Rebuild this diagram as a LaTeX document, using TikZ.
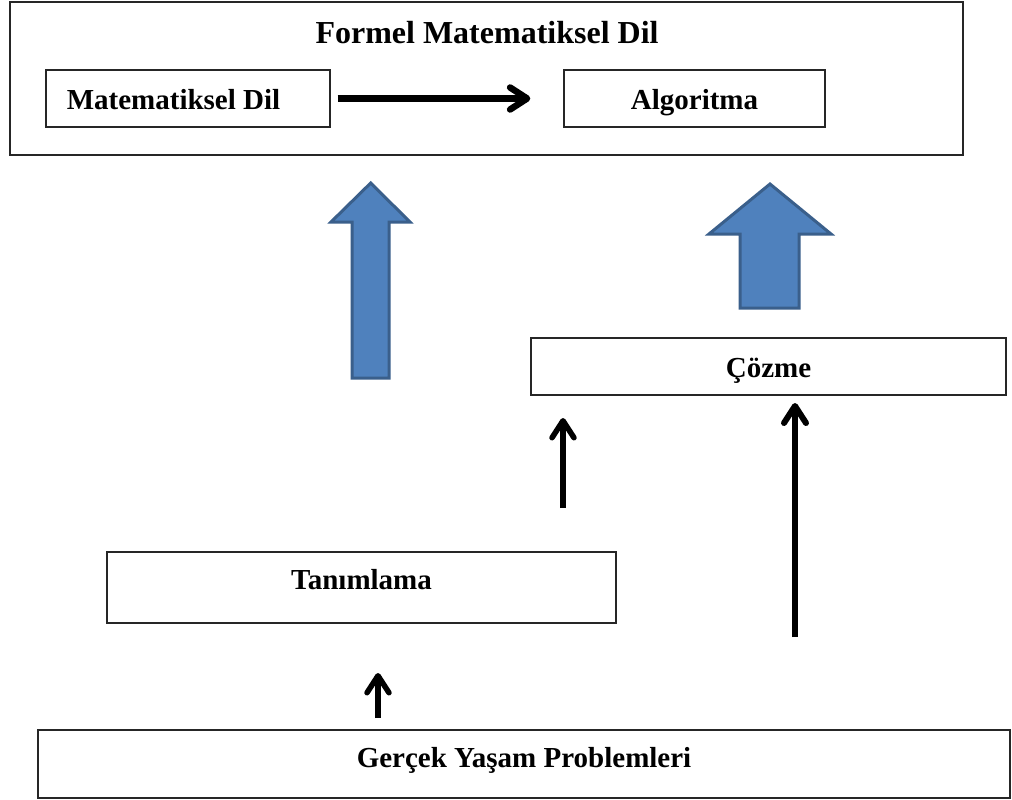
\documentclass[tikz,border=0pt]{standalone}
\usepackage{fontspec}
\setmainfont{Liberation Serif}
\usetikzlibrary{arrows.meta}
\definecolor{blockfill}{HTML}{4F81BD}
\definecolor{blockline}{HTML}{3A5F8B}
\begin{document}
\begin{tikzpicture}[x=1pt,y=-1pt,
  box/.style={draw=black!85,line width=1.3pt,fill=white,inner sep=0pt,
    text height=24pt,text depth=2pt,
    font=\fontsize{29}{35}\selectfont\bfseries},
  flow/.style={line width=5.5pt,-{Straight Barb[length=17pt,width=22pt,line join=round,line cap=round]}},
  blockarrow/.style={draw=blockline,fill=blockfill,line width=3pt,line join=miter}]
\useasboundingbox (0,0) rectangle (1012,800);
\fill[white] (0,0) rectangle (1012,800);

% outer frame with its title
\node[box,minimum width=953pt,minimum height=153pt] (formel) at (486.5,78.5) {};
\node[font=\fontsize{32}{38}\selectfont\bfseries] (title) at (487,33) {Formel Matematiksel Dil};

% inner boxes
\node[box,minimum width=284pt,minimum height=57pt] (mdil) at (188,98.5) {Matematiksel Dil\hspace*{29pt}};
\node[box,minimum width=261pt,minimum height=57pt] (alg) at (694.5,98.5) {Algoritma};

\node[box,minimum width=475pt,minimum height=57pt,text depth=3pt] (cozme) at (768.5,366.5) {Çözme};
\node[box,minimum width=509pt,minimum height=71pt,text height=20pt,text depth=16pt] (tanim) at (361.5,587.5) {Tanımlama};
\node[box,minimum width=972pt,minimum height=68pt,text height=20pt,text depth=14pt] (gercek) at (524,764) {Gerçek Yaşam Problemleri};

% connector between the two inner boxes
\draw[flow,line width=6.5pt,shorten <=7pt,shorten >=33pt] (mdil.east) -- (alg.west);

% thin upward arrows
\coordinate (a1s) at (563,508);
\coordinate (a1e) at (563,418);
\coordinate (a2s) at (795,637);
\coordinate (a2e) at (795,403);
\coordinate (a3s) at (378,718);
\coordinate (a3e) at (378,673);
\draw[flow] (a1s) -- (a1e);
\draw[flow,line width=6pt] (a2s) -- (a2e);
\draw[flow] (a3s) -- (a3e);

% broad block arrows
\draw[blockarrow] (370.7,183) -- (410,222) -- (389,222) -- (389,378)
  -- (352,378) -- (352,222) -- (331,222) -- cycle;
\draw[blockarrow] (770,184) -- (831,234) -- (799,234) -- (799,308)
  -- (740,308) -- (740,234) -- (709,234) -- cycle;
\end{tikzpicture}
\end{document}
